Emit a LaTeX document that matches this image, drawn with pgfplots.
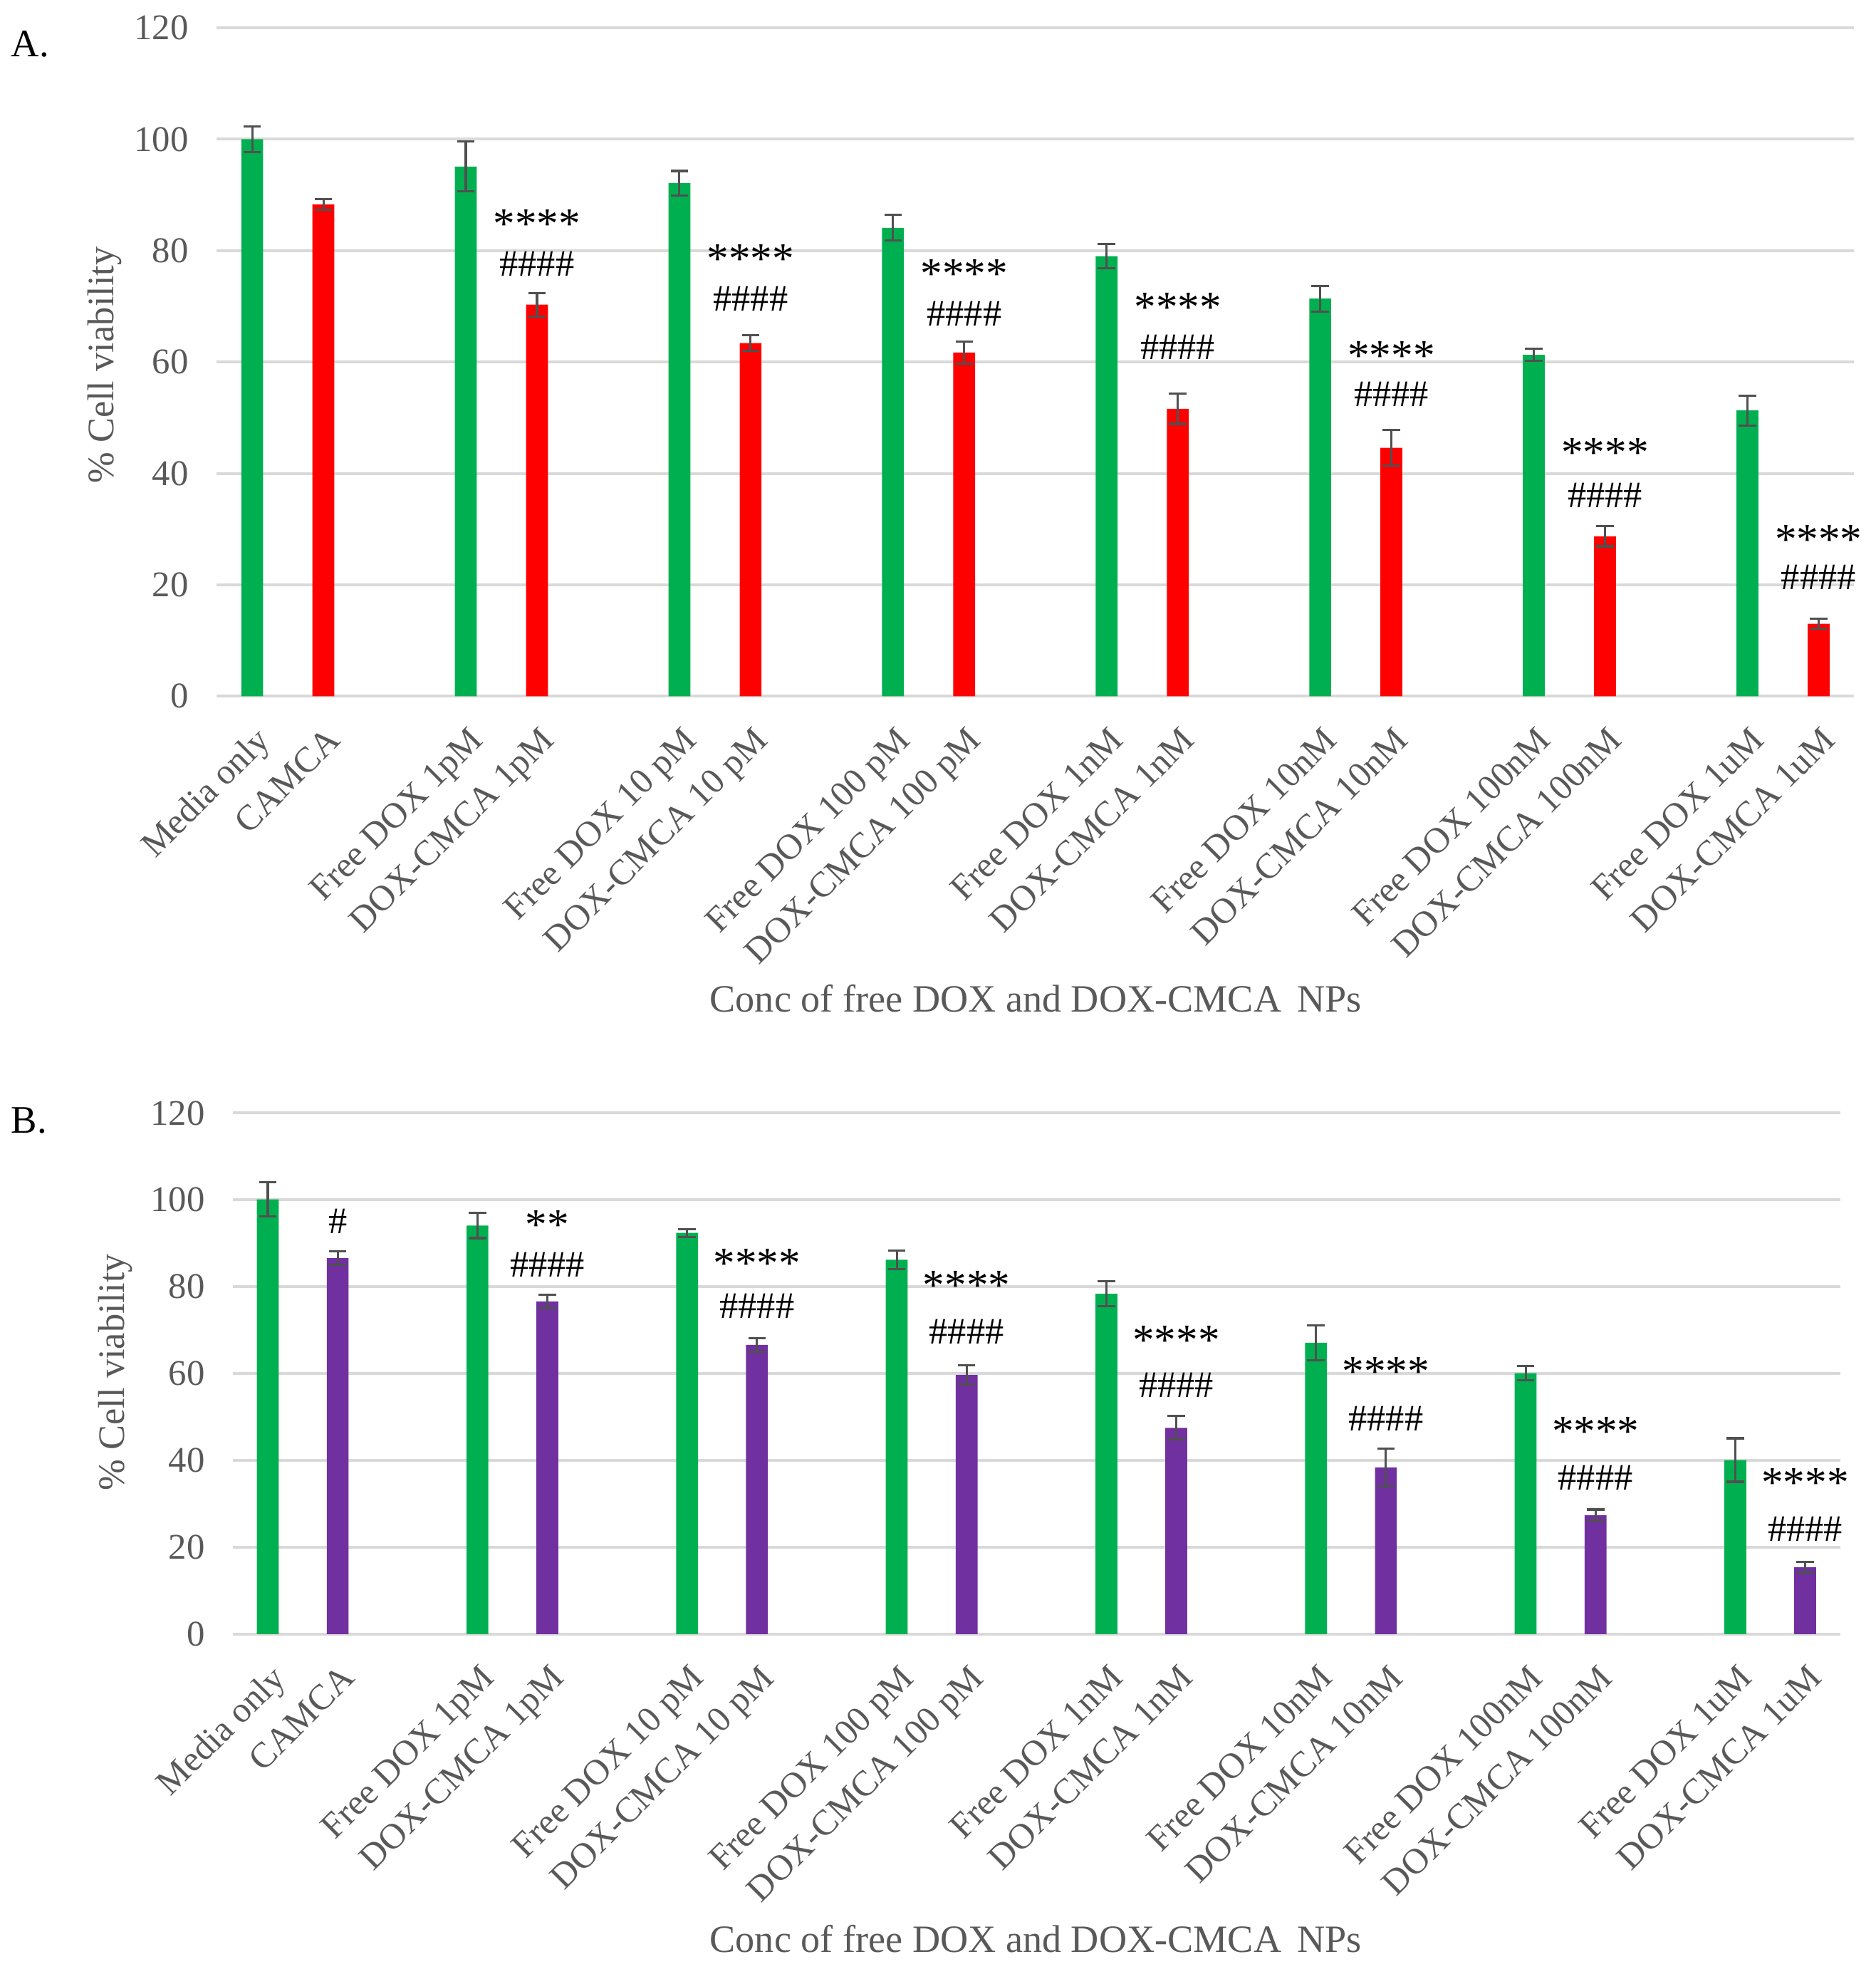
\documentclass[border=0pt]{standalone}
\usepackage{pgfplots}
\pgfplotsset{compat=1.18}
\usepackage{fontspec}
\setmainfont{Liberation Serif}
\definecolor{xgreen}{HTML}{00B050}
\definecolor{xred}{HTML}{FF0000}
\definecolor{xpurple}{HTML}{7030A0}
\definecolor{tgray}{HTML}{595959}
\definecolor{ggray}{HTML}{D9D9D9}
\definecolor{egray}{HTML}{505050}
\pgfplotsset{
  myaxis/.style={
    scale only axis,
    xmin=-0.5, xmax=22.5, ymin=0, ymax=120,
    ytick={0,20,...,120},
    xtick={0,1,3,4,6,7,9,10,12,13,15,16,18,19,21,22},
    xticklabels={Media only,CAMCA,Free DOX 1pM,DOX-CMCA 1pM,Free DOX 10 pM,DOX-CMCA 10 pM,Free DOX 100 pM,DOX-CMCA 100 pM,Free DOX 1nM,DOX-CMCA 1nM,Free DOX 10nM,DOX-CMCA 10nM,Free DOX 100nM,DOX-CMCA 100nM,Free DOX 1uM,DOX-CMCA 1uM},
    ymajorgrids, grid style={ggray, line width=0.9bp},
    axis line style={draw=none},
    major tick length=0pt,
    /pgf/number format/assume math mode=true,
    yticklabel style={font=\fontsize{11.6}{13}\selectfont, text=tgray, anchor=east, inner sep=0pt, xshift=-8.8bp},
    xticklabel style={font=\fontsize{11.5}{13}\selectfont, text=tgray, inner sep=0pt, xshift=0.5bp, yshift=-9bp, rotate=45, anchor=north east},
    clip=false,
  },
  mybar/.style={ybar, bar width=7bp, bar shift=0pt, fill=#1, draw=none,
    error bars/.cd, y dir=both, y explicit,
    error bar style={egray, line width=0.7bp},
    error mark options={egray, rotate=90, mark size=2.8bp, line width=0.7bp}},
}
\tikzset{
  st/.style={inner sep=0pt, font=\fontsize{14}{14}\selectfont, yshift=-2.2bp},
  hs/.style={inner sep=0pt, font=\fontsize{12}{14}\selectfont},
}
\begin{document}
\begin{tikzpicture}
\useasboundingbox (0,0) rectangle (600bp,-631.4bp);
% ---------------- Panel A ----------------
\node[anchor=west, inner sep=0pt, font=\fontsize{12.5}{14}\selectfont] at (3.4bp,-14.1bp) {A.};
\node[rotate=90, font=\fontsize{12}{14}\selectfont, text=tgray] at (33.4bp,-116.8bp) {\% Cell viability};
\node[font=\fontsize{12.4}{14}\selectfont, text=tgray] at (331.4bp,-319.3bp) {Conc of free DOX and DOX-CMCA\, NPs};
\begin{axis}[myaxis, width=523.9bp, height=213.8bp, at={(69.3bp,-222.7bp)}, anchor=south west]
\addplot[mybar=xgreen] table[x=x, y=y, y error=e] {
x y e
0 100.0 2.3
3 95.1 4.5
6 92.1 2.2
9 84.1 2.3
12 79.0 2.2
15 71.4 2.3
18 61.3 1.1
21 51.3 2.7
};
\addplot[mybar=xred] table[x=x, y=y, y error=e] {
x y e
1 88.3 1.0
4 70.3 2.1
7 63.4 1.4
10 61.7 2.0
13 51.6 2.7
16 44.6 3.2
19 28.7 1.8
22 13.0 0.9
};
\foreach \xx/\ya/\yb in {4/86.0/77.6, 7/79.8/71.4, 10/77.0/68.7, 13/71.1/62.7, 16/62.4/54.2, 19/45.0/36.1, 22/29.4/21.3}{
  \edef\temp{\noexpand\node[st] at (axis cs:\xx,\ya) {****};
  \noexpand\node[hs] at (axis cs:\xx,\yb) {\noexpand\#\noexpand\#\noexpand\#\noexpand\#};}
  \temp
}
\end{axis}
% ---------------- Panel B ----------------
\node[anchor=west, inner sep=0pt, font=\fontsize{12.5}{14}\selectfont] at (3.4bp,-358.4bp) {B.};
\node[rotate=90, font=\fontsize{12}{14}\selectfont, text=tgray] at (37bp,-438.9bp) {\% Cell viability};
\node[font=\fontsize{12.4}{14}\selectfont, text=tgray] at (331.4bp,-620.2bp) {Conc of free DOX and DOX-CMCA\, NPs};
\begin{axis}[myaxis, width=514.2bp, height=166.7bp, at={(74.5bp,-522.7bp)}, anchor=south west]
\addplot[mybar=xgreen] table[x=x, y=y, y error=e] {
x y e
0 100.1 3.9
3 94.1 2.9
6 92.4 0.9
9 86.2 2.1
12 78.4 2.8
15 67.1 4.0
18 60.1 1.7
21 40.1 5.0
};
\addplot[mybar=xpurple] table[x=x, y=y, y error=e] {
x y e
1 86.6 1.5
4 76.6 1.6
7 66.6 1.6
10 59.7 2.2
13 47.5 2.7
16 38.4 4.3
19 27.4 1.3
22 15.4 1.2
};
\node[hs] at (axis cs:1,95.0) {\#};
\node[st] at (axis cs:4,95.9) {**};
\node[hs] at (axis cs:4,85.0) {\#\#\#\#};
\foreach \xx/\ya/\yb in {7/87.0/75.5, 10/81.8/69.7, 13/69.3/57.3, 16/62.0/49.7, 19/48.3/36.0, 22/36.4/24.2}{
  \edef\temp{\noexpand\node[st] at (axis cs:\xx,\ya) {****};
  \noexpand\node[hs] at (axis cs:\xx,\yb) {\noexpand\#\noexpand\#\noexpand\#\noexpand\#};}
  \temp
}
\end{axis}
\end{tikzpicture}
\end{document}
